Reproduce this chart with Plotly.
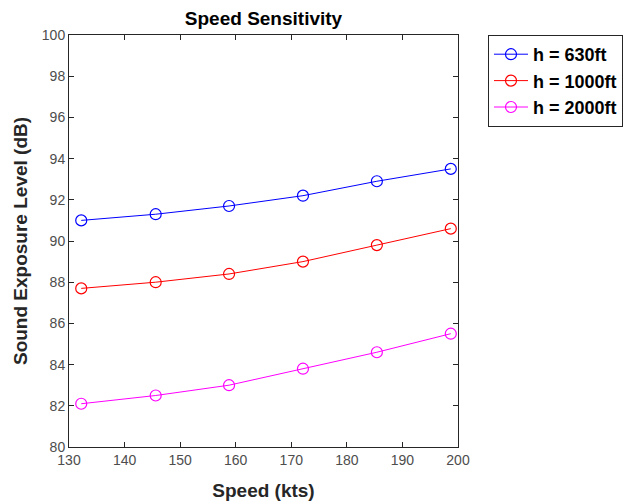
import plotly.graph_objects as go

# Speed sweep (knots) and sound exposure level (dB) per altitude
speed_kts = [132.2, 145.6, 158.8, 172.1, 185.4, 198.7]
sel_630ft = [91.0, 91.3, 91.7, 92.2, 92.9, 93.5]
sel_1000ft = [87.7, 88.0, 88.4, 89.0, 89.8, 90.6]
sel_2000ft = [82.1, 82.5, 83.0, 83.8, 84.6, 85.5]

series_names = ["h = 630ft", "h = 1000ft", "h = 2000ft"]
series_colors = ["#0000ff", "#ff0000", "#ff00ff"]
series_values = [sel_630ft, sel_1000ft, sel_2000ft]

x_ticks = [130, 140, 150, 160, 170, 180, 190, 200]
y_ticks = [80, 82, 84, 86, 88, 90, 92, 94, 96, 98, 100]

fig = go.Figure()
for name, color, values in zip(series_names, series_colors, series_values):
    fig.add_trace(go.Scatter(
        x=speed_kts, y=values, name=f"<b>{name}</b>", mode="lines+markers",
        line=dict(color=color, width=1),
        marker=dict(symbol="circle-open", size=11, color=color,
                    line=dict(color=color, width=1.2)),
    ))

axis_color = "#262626"
tick_color = "#4d4d4d"
axis_common = dict(
    showgrid=False, zeroline=False, showline=True, linecolor=axis_color,
    linewidth=1, mirror="ticks", ticks="inside", ticklen=5,
    tickcolor=axis_color, tickfont=dict(size=14, color=tick_color),
)

fig.update_layout(
    width=624, height=502,
    margin=dict(l=69, r=166, t=35, b=55, autoexpand=False),
    paper_bgcolor="white", plot_bgcolor="white",
    font=dict(family="Liberation Sans, Arial, sans-serif", color=axis_color),
    title=dict(text="<b>Speed Sensitivity</b>", x=(69 + 458) / 2 / 624,
               xanchor="center", y=1 - 18 / 502, yanchor="middle",
               font=dict(size=19, color="black")),
    xaxis=dict(range=[130, 200], tickvals=x_ticks,
               title=dict(text="<b>Speed (kts)</b>", standoff=16,
                          font=dict(size=19, color=axis_color)),
               **axis_common),
    yaxis=dict(range=[80, 100], tickvals=y_ticks,
               title=dict(text="<b>Sound Exposure Level (dB)</b>", standoff=9,
                          font=dict(size=19, color=axis_color)),
               **axis_common),
    legend=dict(x=(488 - 69) / 389, xanchor="left", y=1.0, yanchor="top",
                bordercolor=axis_color, borderwidth=1, bgcolor="white",
                font=dict(size=18, color="black"),
                tracegroupgap=0, itemwidth=34),
    showlegend=True,
)

fig.write_html("out.html")
